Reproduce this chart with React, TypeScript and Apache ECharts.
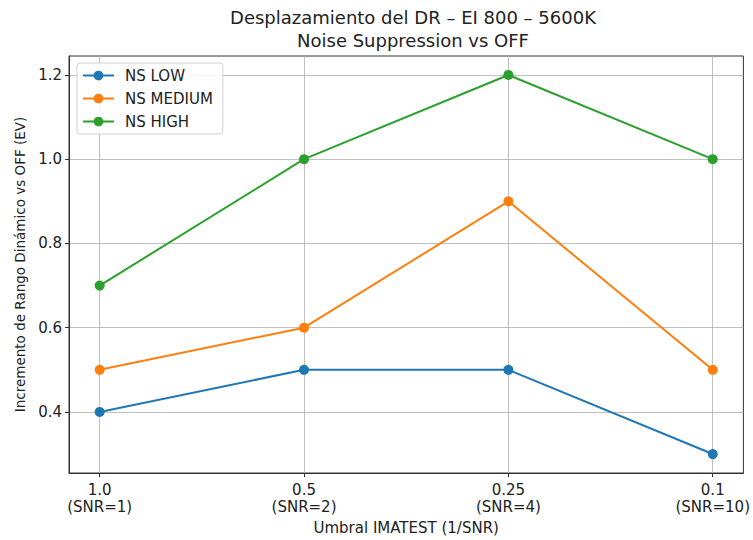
import React, { useEffect, useRef } from "react";
import * as echarts from "echarts";

const categories = ["1.0\n(SNR=1)", "0.5\n(SNR=2)", "0.25\n(SNR=4)", "0.1\n(SNR=10)"];
const nsLow = [0.4, 0.5, 0.5, 0.3];
const nsMedium = [0.5, 0.6, 0.9, 0.5];
const nsHigh = [0.7, 1.0, 1.2, 1.0];
const yTicks = [0.4, 0.6, 0.8, 1.0, 1.2];
const seriesNames = ["NS LOW", "NS MEDIUM", "NS HIGH"];
const colors = ["#1f77b4", "#ff7f0e", "#2ca02c"];

const FONT = "DejaVu Sans";

export default function App() {
  const ref = useRef<HTMLDivElement>(null);
  useEffect(() => {
    if (!ref.current) return;
    const chart = echarts.init(ref.current, undefined, { renderer: "svg" });
    const all = [nsLow, nsMedium, nsHigh];
    const xIdx = categories.map((_, i) => i);
    chart.setOption({
      animation: false,
      backgroundColor: "#ffffff",
      textStyle: { fontFamily: FONT },
      title: {
        text: "Desplazamiento del DR – EI 800 – 5600K\nNoise Suppression vs OFF",
        left: 408,
        textAlign: "center",
        top: 1,
        textStyle: { fontFamily: FONT, fontSize: 18, fontWeight: "normal", color: "#222", lineHeight: 23 },
      },
      grid: {
        left: 69,
        right: 8,
        top: 56,
        bottom: 64,
        show: true,
        borderColor: "#333",
        borderWidth: 1,
        backgroundColor: "transparent",
      },
      legend: {
        orient: "vertical",
        left: 77,
        top: 63,
        padding: [5, 10, 5, 5],
        itemGap: 8,
        itemWidth: 31,
        itemHeight: 12,
        backgroundColor: "rgba(255,255,255,0.85)",
        borderColor: "#d0d0d0",
        borderWidth: 1,
        borderRadius: 3,
        textStyle: { fontFamily: FONT, fontSize: 15, color: "#222", padding: [0, 0, 0, 6] },
        data: seriesNames,
      },
      xAxis: {
        type: "value",
        min: -0.15,
        max: 3.15,
        name: "Umbral IMATEST (1/SNR)",
        nameLocation: "middle",
        nameGap: 47,
        nameTextStyle: { fontFamily: FONT, fontSize: 15, color: "#222" },
        axisLine: { show: true, onZero: false, lineStyle: { color: "#333" } },
        axisTick: { show: true, length: 4, customValues: xIdx, lineStyle: { color: "#333" } },
        axisLabel: {
          customValues: xIdx,
          formatter: (v: number) => categories[Math.round(v)] ?? "",
          fontFamily: FONT,
          fontSize: 15,
          color: "#222",
          lineHeight: 17,
          margin: 8,
        },
        splitLine: { show: true, lineStyle: { color: "#b0b0b0", width: 0.8 } },
      },
      yAxis: {
        type: "value",
        min: 0.255,
        max: 1.245,
        name: "Incremento de Rango Dinámico vs OFF (EV)",
        nameLocation: "middle",
        nameGap: 42,
        nameTextStyle: { fontFamily: FONT, fontSize: 13.5, color: "#222" },
        axisLine: { show: true, onZero: false, lineStyle: { color: "#333" } },
        axisTick: { show: true, length: 4, customValues: yTicks, lineStyle: { color: "#333" } },
        axisLabel: {
          customValues: yTicks,
          formatter: (v: number) => v.toFixed(1),
          fontFamily: FONT,
          fontSize: 15,
          color: "#222",
          margin: 7,
        },
        splitLine: { show: true, lineStyle: { color: "#b0b0b0", width: 0.8 } },
      },
      series: all.map((vals, s) => ({
        name: seriesNames[s],
        type: "line",
        data: vals.map((v, i) => [i, v]),
        symbol: "circle",
        symbolSize: 10,
        color: colors[s],
        lineStyle: { width: 2, color: colors[s] },
        itemStyle: { color: colors[s] },
      })),
    });
    return () => chart.dispose();
  }, []);
  return <div ref={ref} style={{ position: "fixed", left: 0, top: 0, width: 753, height: 540 }} />;
}
